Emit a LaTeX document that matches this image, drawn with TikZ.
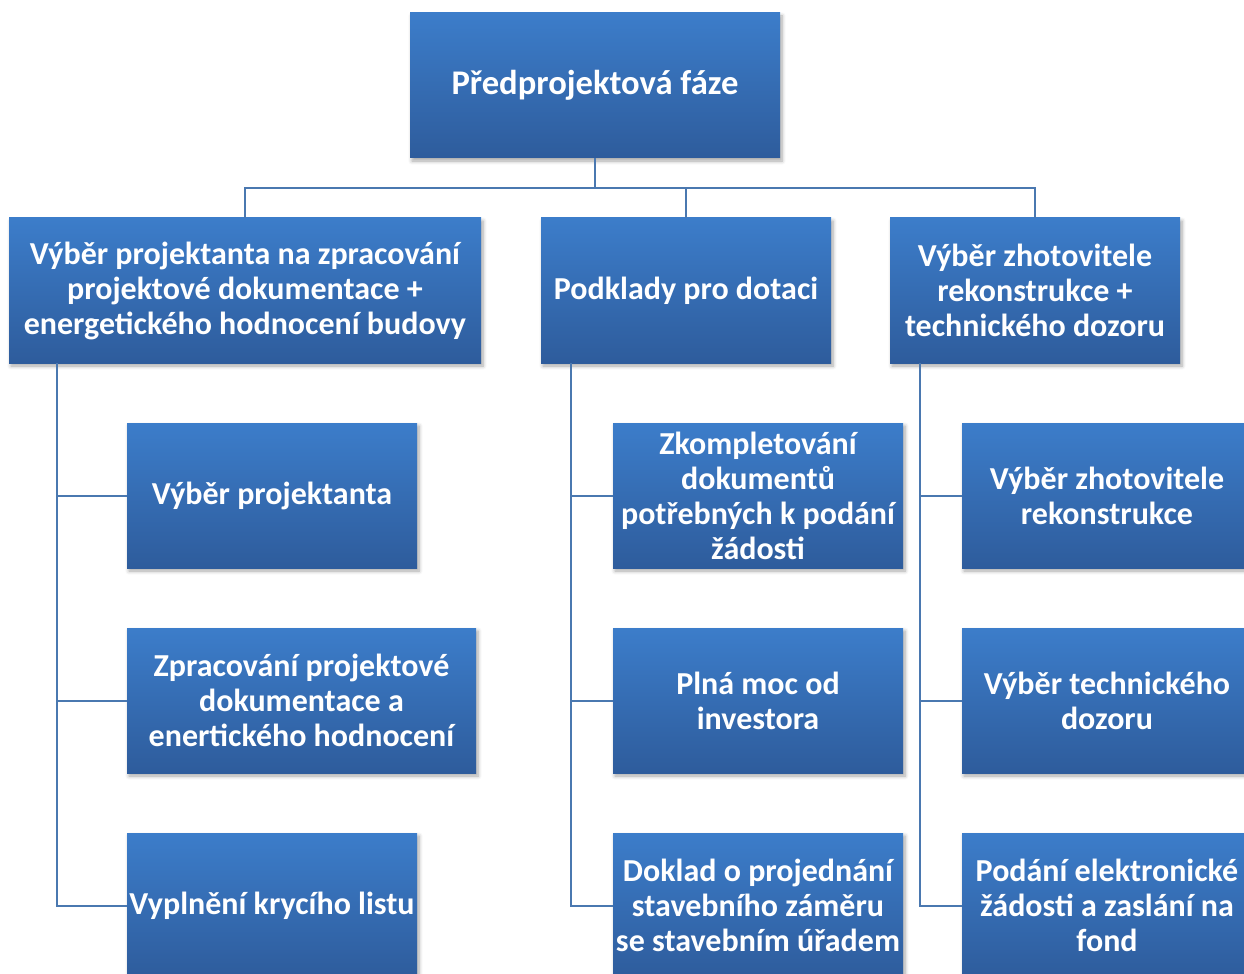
\documentclass[tikz,border=0pt]{standalone}
\usepackage{fontspec}
\setmainfont{Carlito}
\usetikzlibrary{shadows.blur}
\definecolor{boxtop}{HTML}{3C7DCA}
\definecolor{boxmid}{HTML}{3A74BE}
\definecolor{boxbot}{HTML}{2E5C9C}
\definecolor{wire}{HTML}{4A78B0}
\tikzset{
  box/.style = {
    minimum height=72.5pt, inner sep=1pt, align=center,
    top color=boxtop, middle color=boxmid, bottom color=boxbot,
    text=white, font=\fontsize{16}{17.5}\selectfont\bfseries,
    blur shadow={shadow xshift=1pt, shadow yshift=-1.5pt, shadow blur steps=6, shadow opacity=35}
  },
  narrow/.style = {box, minimum width=145pt},
  wire/.style = {draw=wire, line width=1pt}
}
\begin{document}
\begin{tikzpicture}[x=0.5pt,y=-0.5pt]
  \path[use as bounding box,clip] (0,0) rectangle (1244,974);
  \node[box,minimum width=185pt,font=\fontsize{17.3}{19}\selectfont\bfseries] (top) at (595,85.5)
    {Předprojektová fáze};
  % first level
  \node[box,minimum width=236pt] (proj) at (245,290.5)
    {Výběr projektanta na zpracování\\projektové dokumentace +\\energetického hodnocení budovy};
  \node[narrow] (dot) at (686,290.5) {Podklady pro dotaci};
  \node[narrow] (zhot) at (1035,290.5)
    {Výběr zhotovitele\\rekonstrukce +\\technického dozoru};
  % second level
  \node[narrow] (proj1) at (272,495.5) {Výběr projektanta};
  \node[box,minimum width=174.5pt] (proj2) at (301.5,700.5)
    {Zpracování projektové\\dokumentace a\\enertického hodnocení};
  \node[narrow] (proj3) at (272,905.5) {Vyplnění krycího listu};
  \node[narrow] (dot1) at (758,495.5)
    {Zkompletování\\dokumentů\\potřebných k podání\\žádosti};
  \node[narrow] (dot2) at (758,700.5) {Plná moc od\\investora};
  \node[narrow] (dot3) at (758,905.5)
    {Doklad o projednání\\stavebního záměru\\se stavebním úřadem};
  \node[narrow] (zhot1) at (1107,495.5) {Výběr zhotovitele\\rekonstrukce};
  \node[narrow] (zhot2) at (1107,700.5) {Výběr technického\\dozoru};
  \node[narrow] (zhot3) at (1107,905.5)
    {Podání elektronické\\žádosti a zaslání na\\fond};
  % connectors
  \foreach \c in {proj,dot,zhot}
    \draw[wire] (top.south) -- ++(0,30) -| (\c.north);
  \foreach \i in {1,2,3} {
    \draw[wire] (proj.south west) ++(48,0) |- (proj\i.west);
    \draw[wire] (dot.south west) ++(30,0) |- (dot\i.west);
    \draw[wire] (zhot.south west) ++(30,0) |- (zhot\i.west);
  }
\end{tikzpicture}
\end{document}
